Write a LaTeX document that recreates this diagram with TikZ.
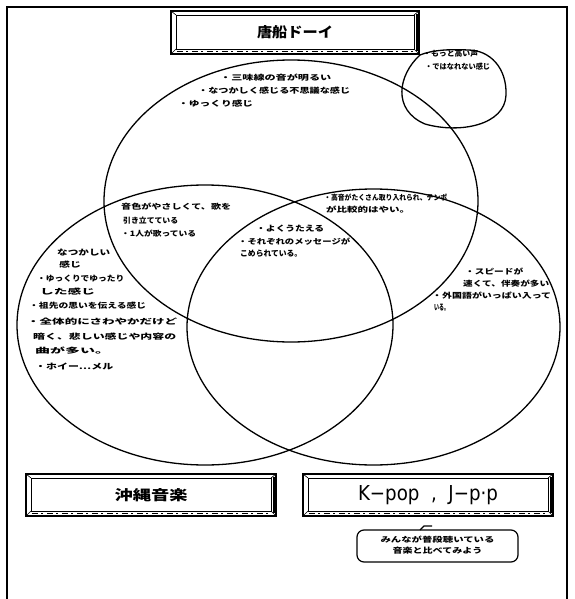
\documentclass[tikz,border=0pt]{standalone}
\usepackage{fontspec}
\usepackage{graphicx}
\newfontfamily\cjk{Noto Sans CJK JP}
\newfontfamily\latinsans{DejaVu Sans}
\newcommand{\hw}[2]{\resizebox{#1pt}{6.5pt}{\cjk\bfseries #2}}
\tikzset{
  venn/.style={draw=black, line width=1.3pt},
  outerbox/.style={draw=black, line width=1.8pt},
  innerbox/.style={draw=black, line width=0.8pt},
  hand/.style={anchor=west, inner sep=0pt},
  bubble/.style={draw=black, line width=1.2pt, rounded corners=7pt},
}
\newcommand{\bevelbox}[5]{%
  \draw[outerbox] (#1,#2) rectangle (#3,#4);
  \draw[innerbox] (#1+5,#2+4) rectangle (#3-5,#4-5);
  \draw[line width=0.6pt] (#1,#2) -- (#1+5,#2+4) (#3,#2) -- (#3-5,#2+4)
     (#1,#4) -- (#1+5,#4-5) (#3,#4) -- (#3-5,#4-5);
  \draw[line width=1.4pt, dash pattern=on 6pt off 3pt on 2pt off 4pt] (#1+6,#4-2.5) -- (#3-6,#4-2.5);
  \draw[line width=1.6pt] (#3-2,#2+3) -- (#3-2,#4-3);
  \node[name=#5] at ({(#1+#3)/2},{(#2+#4)/2}) {};
}
\begin{document}
\begin{tikzpicture}[x=1pt,y=-1pt]
\useasboundingbox (0,0) rectangle (574,599);
\fill[white] (0,0) rectangle (574,599);
% frame
\draw[line width=1.2pt] (7,599) -- (7,7) -- (567,7) -- (567,599);

% title boxes
\bevelbox{171}{11}{419}{54}{topbox}
\node at (topbox) {\resizebox{76pt}{12pt}{\cjk\bfseries 唐船ドーイ}};
\bevelbox{26}{474}{276}{516}{leftbox}
\node at (leftbox) {\resizebox{73pt}{12pt}{\cjk\bfseries 沖縄音楽}};
\bevelbox{303}{474}{553}{516}{rightbox}
\node at (rightbox) [xshift=0pt] {\resizebox{140pt}{15pt}{\latinsans K−pop\ \ ,\ \ J−p·p}};

% Venn circles
\draw[venn] (291,201) ellipse [x radius=187, y radius=141];
\draw[venn] (205,325) ellipse [x radius=188, y radius=140];
\draw[venn] (373.5,327) ellipse [x radius=186.5, y radius=138];

% small hand-drawn circle
\draw[venn] (420,55) .. controls (398,75) and (392,110) .. (425,124)
  .. controls (460,134) and (505,125) .. (506,95)
  .. controls (507,68) and (490,50) .. (468,50)
  .. controls (450,49) and (432,50) .. (420,55);
\node[hand] (s1) at (423,54) {\hw{55}{・もっと高い声}};
\node[hand] (s2) at (425,67) {\hw{65}{・ではなれない感じ}};

% top circle only
\node[hand] (a1) at (220,78) {\hw{111}{・三味線の音が明るい}};
\node[hand] (a2) at (198,91) {\hw{152}{・なつかしく感じる不思議な感じ}};
\node[hand] (a3) at (178,104) {\hw{75}{・ゆっくり感じ}};

% A and B
\node[hand] (ab1) at (121,207) {\hw{110}{音色がやさしくて、歌を}};
\node[hand] (ab2) at (123,221) {\hw{55}{引き立てている}};
\node[hand] (ab3) at (121,234) {\hw{75}{・1人が歌っている}};

% center
\node[hand] (c1) at (256,229) {\hw{68}{・よくうたえる}};
\node[hand] (c2) at (238,242) {\hw{112}{・それぞれのメッセージが}};
\node[hand] (c3) at (240,254) {\hw{62}{こめられている。}};

% A and C
\node[hand] (ac1) at (324,198) {\hw{123}{・高音がたくさん取り入れられ、テンポ}};
\node[hand] (ac2) at (326,210) {\hw{84}{が比較的はやい。}};

% B only
\node[hand] (b1) at (57,253) {\hw{53}{なつかしい}};
\node[hand] (b2) at (59,265) {\hw{22}{感じ}};
\node[hand] (b3) at (37,279) {\hw{87}{・ゆっくりでゆったり}};
\node[hand] (b4) at (40,292) {\hw{55}{した感じ}};
\node[hand] (b5) at (29,306) {\hw{117}{・祖先の思いを伝える感じ}};
\node[hand] (b6) at (27,322) {\hw{150}{・全体的にさわやかだけど}};
\node[hand] (b7) at (33,337) {\hw{143}{暗く、悲しい感じや内容の}};
\node[hand] (b8) at (35,351) {\hw{75}{曲が多い。}};
\node[hand] (b9) at (35,366) {\hw{78}{・ホイー…メル}};

% C only
\node[hand] (k1) at (465,271) {\hw{58}{・スピードが}};
\node[hand] (k2) at (463,284) {\hw{86}{速くて、伴奏が多い}};
\node[hand] (k3) at (432,296) {\hw{119}{・外国語がいっぱい入って}};
\node[hand] (k4) at (434,308) {\hw{15}{いる。}};

% speech bubble
\draw[bubble] (357,530) rectangle (518,562);
\draw[line width=1.2pt] (420,530) -- (424,526) -- (432,526);
\node (bub) at (437.5,546) {\begin{tabular}{c}\resizebox{114pt}{6.5pt}{\cjk\bfseries みんなが普段聴いている}\\[-1pt]\resizebox{90pt}{6.5pt}{\cjk\bfseries 音楽と比べてみよう}\end{tabular}};
\end{tikzpicture}
\end{document}
